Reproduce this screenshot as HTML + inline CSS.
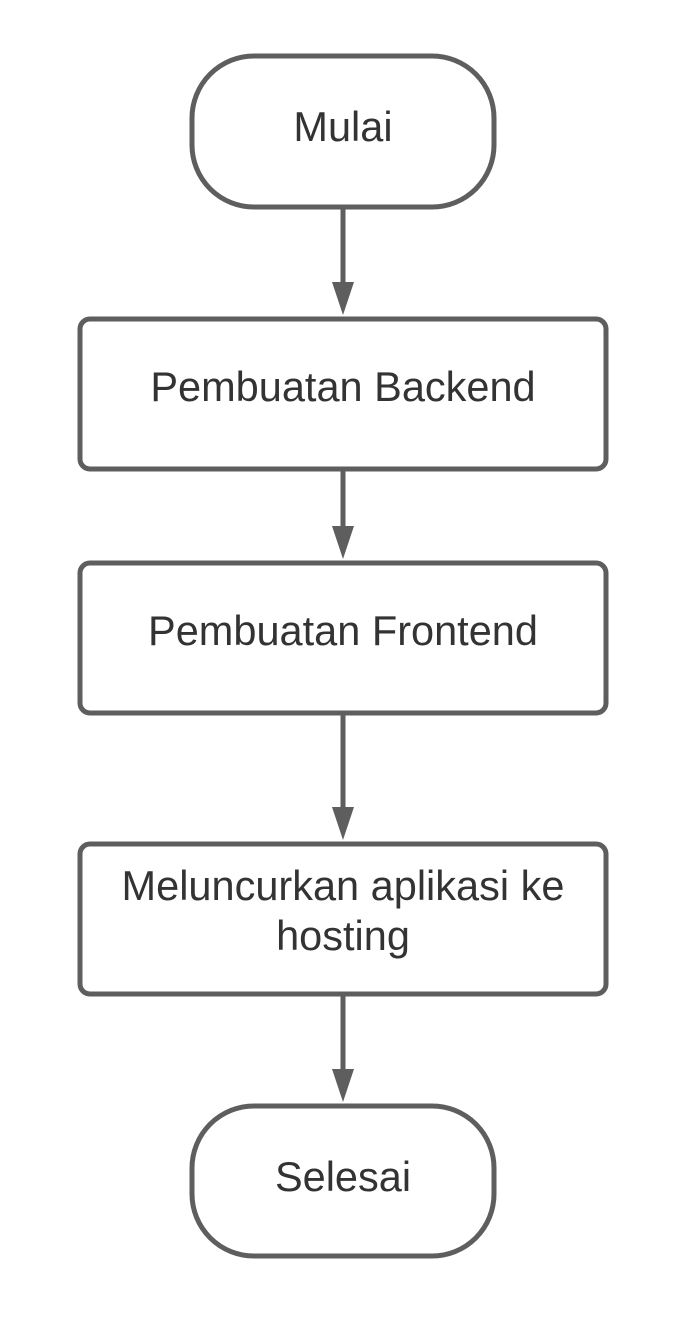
<!DOCTYPE html>
<html><head><style>html,body{margin:0;padding:0;background:#fff}</style></head>
<body>
<svg width="698" height="1333" viewBox="0 0 698 1333" xmlns="http://www.w3.org/2000/svg">
<g fill="none" stroke="#5e5e5e" stroke-width="5">
<rect x="192" y="56" width="302" height="151" rx="62"/>
<rect x="80" y="319" width="526" height="150" rx="10"/>
<rect x="80" y="563" width="526" height="150" rx="10"/>
<rect x="80" y="844" width="526" height="150" rx="10"/>
<rect x="192" y="1106" width="302" height="150" rx="62"/>
<line x1="343" y1="207" x2="343" y2="285"/>
<line x1="343" y1="469" x2="343" y2="530"/>
<line x1="343" y1="713" x2="343" y2="811"/>
<line x1="343" y1="994" x2="343" y2="1073"/>
</g>
<g fill="#5e5e5e">
<polygon points="332,282 354,282 343,315"/>
<polygon points="332,526 354,526 343,559"/>
<polygon points="332,807 354,807 343,840"/>
<polygon points="332,1069 354,1069 343,1102"/>
</g>
<g font-family="Liberation Sans, sans-serif" font-size="41.5" fill="#333" text-anchor="middle">
<text x="343" y="141">Mulai</text>
<text x="343" y="401">Pembuatan Backend</text>
<text x="343" y="645">Pembuatan Frontend</text>
<text x="343" y="900">Meluncurkan aplikasi ke</text>
<text x="343" y="950">hosting</text>
<text x="343" y="1191">Selesai</text>
</g>
</svg>
</body></html>
